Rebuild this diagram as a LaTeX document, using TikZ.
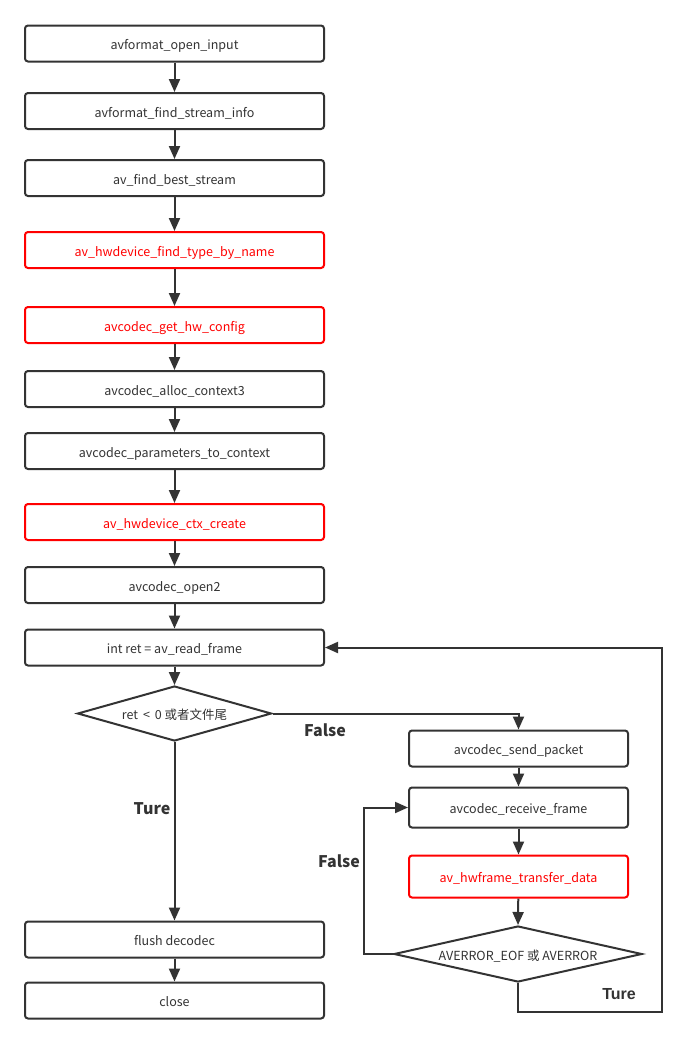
\documentclass[tikz,border=0pt]{standalone}
\usepackage{fontspec}
\setmainfont{Noto Sans CJK SC}
\newfontfamily\arialb{Liberation Sans}
\usetikzlibrary{arrows.meta,shapes.geometric}
\definecolor{ln}{HTML}{333333}
\definecolor{rd}{HTML}{FF0000}
\begin{document}
\begin{tikzpicture}[x=1pt,y=-1pt,
  txt/.style={text=ln,font=\fontsize{12.5}{14}\selectfont,text height=12pt,text depth=0pt},
  box/.style={draw=ln,line width=2pt,rounded corners=3pt,minimum height=36pt,txt,inner sep=0pt},
  lbox/.style={box,minimum width=299pt},
  rbox/.style={box,minimum width=219pt},
  redbox/.style={draw=rd,text=rd},
  dshape/.style={draw=ln,line width=2pt,shape=diamond,inner sep=0pt},
  arr/.style={draw=ln,line width=2pt,-{Triangle[length=13pt,width=11pt]}},
  lbl/.style={text=ln,font=\bfseries\fontsize{16}{18}\selectfont},
]
\useasboundingbox (0,0) rectangle (686,1045);
\fill[white] (0,0) rectangle (686,1045);
\node[lbox] (n1) at (174.5,43.5) {avformat\_open\_input};
\node[lbox] (n2) at (174.5,111) {avformat\_find\_stream\_info};
\node[lbox] (n3) at (174.5,178) {av\_find\_best\_stream};
\node[lbox,redbox] (n4) at (174.5,250) {av\_hwdevice\_find\_type\_by\_name};
\node[lbox,redbox] (n5) at (174.5,325) {avcodec\_get\_hw\_config};
\node[lbox] (n6) at (174.5,389) {avcodec\_alloc\_context3};
\node[lbox] (n7) at (174.5,451) {avcodec\_parameters\_to\_context};
\node[lbox,redbox] (n8) at (174.5,522) {av\_hwdevice\_ctx\_create};
\node[lbox] (n9) at (174.5,585) {avcodec\_open2};
\node[lbox] (n10) at (174.5,647.5) {int ret = av\_read\_frame};
\node[dshape,aspect=3.5,minimum width=194pt,minimum height=55pt] (d1) at (174.5,713.5) {};
\node[txt] at (d1.center) {ret \,<\, 0 或者文件尾};
\node[lbox] (n11) at (174.5,939.5) {flush decodec};
\node[lbox] (n12) at (174.5,1000.5) {close};

\node[rbox] (r1) at (518.5,748.5) {avcodec\_send\_packet};
\node[rbox,minimum height=40pt] (r2) at (518.5,807.5) {avcodec\_receive\_frame};
\node[rbox,redbox,minimum height=42pt] (r3) at (518.5,876.5) {av\_hwframe\_transfer\_data};
\node[dshape,aspect=4.4,minimum width=248pt,minimum height=56pt] (d2) at (518,954) {};
\node[txt] at (d2.center) {AVERROR\_EOF 或 AVERROR};

\draw[arr] (n1) -- (n2);
\draw[arr] (n2) -- (n3);
\draw[arr] (n3) -- (n4);
\draw[arr] (n4) -- (n5);
\draw[arr] (n5) -- (n6);
\draw[arr] (n6) -- (n7);
\draw[arr] (n7) -- (n8);
\draw[arr] (n8) -- (n9);
\draw[arr] (n9) -- (n10);
\draw[arr] (n10) -- (d1);
\draw[arr] (d1.south) -- (n11);
\draw[arr] (n11) -- (n12);
\draw[arr] (d1.east) -| (r1.north);
\draw[arr] (r1) -- (r2);
\draw[arr] (r2) -- (r3);
\draw[arr] (r3) -- (d2.north);
\coordinate (c1) at (364,954);
\draw[arr] (d2.west) -- (c1) |- (r2.west);
\coordinate (c2) at (518,1012);
\coordinate (c3) at (662,1012);
\draw[arr] (d2.south) -- (c2) -- (c3) |- (n10.east);

\node[lbl] at (325,730) {False};
\node[lbl] at (152,809) {Ture};
\node[lbl] at (339,861) {False};
\node[lbl,font=\arialb\bfseries\fontsize{16}{18}\selectfont] at (619,994) {Ture};
\end{tikzpicture}
\end{document}
